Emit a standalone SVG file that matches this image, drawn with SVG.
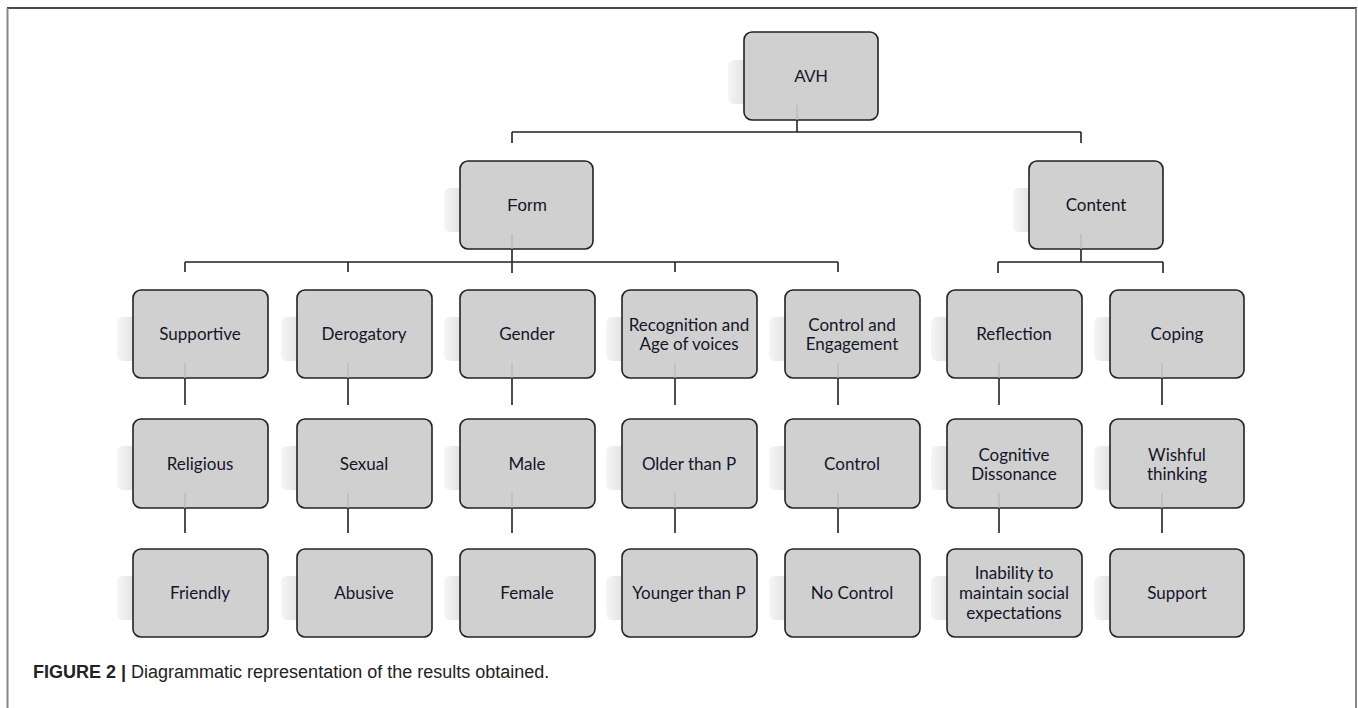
<svg xmlns="http://www.w3.org/2000/svg" width="1358" height="708" viewBox="0 0 1358 708">
<defs>
<linearGradient id="sh" x1="0" y1="0" x2="1" y2="0">
<stop offset="0" stop-color="#f6f6f6"/>
<stop offset="1" stop-color="#dadada"/>
</linearGradient>
<style>
.box{fill:#d0d0d0;stroke:#222;stroke-width:1.6}
.shd{fill:url(#sh)}
.t{font-family:Lato,"Open Sans",sans-serif;font-size:17px;fill:#15152a;text-anchor:middle}
.ta{font-family:"Liberation Sans",Arial,sans-serif;font-size:17px;fill:#15152a;text-anchor:middle}
.c{stroke:#222;stroke-width:1.6;fill:none}
.f{stroke:#b8b8b8;stroke-width:1.2;fill:none}
.cap{font-family:"Liberation Sans",Arial,sans-serif;font-size:18px;fill:#222}
</style>
</defs>
<rect x="0" y="0" width="1358" height="708" fill="#fff"/>
<g id="frame">
<line x1="7" y1="8" x2="1357" y2="8" stroke="#4a4a4a" stroke-width="2"/>
<line x1="7.5" y1="8" x2="7.5" y2="708" stroke="#888" stroke-width="2"/>
<line x1="1356" y1="8" x2="1356" y2="708" stroke="#888" stroke-width="2"/>
</g>
<g id="connectors">
<path class="c" d="M797 120V132M512 132H1081M512 132V143M1081 132V143"/>
<path class="c" d="M512 249V273M185 262H838M185 262V272M348 262V272M675 262V272M838 262V272"/>
<path class="c" d="M1081 249V262M998 262H1163M998 262V273M1163 262V273"/>
<path class="c" d="M185 378V405M348 378V405M512 378V405M675 378V405M838 378V405M999 378V405M1162 378V405"/>
<path class="c" d="M185 508V533M348 508V533M512 508V533M675 508V533M838 508V533M999 508V533M1162 508V533"/>
</g>
<g id="n-avh"><rect class="shd" x="728" y="60" width="24" height="44" rx="6"/><rect class="box" x="744" y="32" width="134" height="88" rx="8"/><line class="f" x1="797" y1="105" x2="797" y2="120"/><text class="ta" x="811" y="82">AVH</text></g>
<g id="n-form"><rect class="shd" x="444" y="188" width="24" height="44" rx="6"/><rect class="box" x="460" y="161" width="133" height="88" rx="8"/><line class="f" x1="512" y1="234" x2="512" y2="249"/><text class="ta" x="527" y="211">Form</text></g>
<g id="n-content"><rect class="shd" x="1013" y="188" width="24" height="44" rx="6"/><rect class="box" x="1029" y="161" width="134" height="88" rx="8"/><line class="f" x1="1081" y1="234" x2="1081" y2="249"/><text class="t" x="1096" y="211">Content</text></g>

<g id="n-supportive"><rect class="shd" x="117" y="317" width="24" height="44" rx="6"/><rect class="box" x="133" y="290" width="135" height="88" rx="8"/><line class="f" x1="185" y1="363" x2="185" y2="378"/><text class="t" x="200" y="340">Supportive</text></g>
<g id="n-derogatory"><rect class="shd" x="281" y="317" width="24" height="44" rx="6"/><rect class="box" x="297" y="290" width="135" height="88" rx="8"/><line class="f" x1="348" y1="363" x2="348" y2="378"/><text class="t" x="364" y="340">Derogatory</text></g>
<g id="n-gender"><rect class="shd" x="444" y="317" width="24" height="44" rx="6"/><rect class="box" x="460" y="290" width="135" height="88" rx="8"/><line class="f" x1="512" y1="363" x2="512" y2="378"/><text class="t" x="527" y="340">Gender</text></g>
<g id="n-recognition"><rect class="shd" x="606" y="317" width="24" height="44" rx="6"/><rect class="box" x="622" y="290" width="135" height="88" rx="8"/><line class="f" x1="675" y1="363" x2="675" y2="378"/><text class="t" x="689" y="331">Recognition and</text><text class="t" x="689" y="350">Age of voices</text></g>
<g id="n-controleng"><rect class="shd" x="769" y="317" width="24" height="44" rx="6"/><rect class="box" x="785" y="290" width="135" height="88" rx="8"/><line class="f" x1="838" y1="363" x2="838" y2="378"/><text class="t" x="852" y="331">Control and</text><text class="t" x="852" y="350">Engagement</text></g>
<g id="n-reflection"><rect class="shd" x="931" y="317" width="24" height="44" rx="6"/><rect class="box" x="947" y="290" width="135" height="88" rx="8"/><line class="f" x1="999" y1="363" x2="999" y2="378"/><text class="t" x="1014" y="340">Reflection</text></g>
<g id="n-coping"><rect class="shd" x="1094" y="317" width="24" height="44" rx="6"/><rect class="box" x="1110" y="290" width="134" height="88" rx="8"/><line class="f" x1="1162" y1="363" x2="1162" y2="378"/><text class="t" x="1177" y="340">Coping</text></g>

<g id="n-religious"><rect class="shd" x="117" y="446" width="24" height="44" rx="6"/><rect class="box" x="133" y="419" width="135" height="89" rx="8"/><line class="f" x1="185" y1="493" x2="185" y2="508"/><text class="t" x="200" y="470">Religious</text></g>
<g id="n-sexual"><rect class="shd" x="281" y="446" width="24" height="44" rx="6"/><rect class="box" x="297" y="419" width="135" height="89" rx="8"/><line class="f" x1="348" y1="493" x2="348" y2="508"/><text class="t" x="364" y="470">Sexual</text></g>
<g id="n-male"><rect class="shd" x="444" y="446" width="24" height="44" rx="6"/><rect class="box" x="460" y="419" width="135" height="89" rx="8"/><line class="f" x1="512" y1="493" x2="512" y2="508"/><text class="t" x="527" y="470">Male</text></g>
<g id="n-older"><rect class="shd" x="606" y="446" width="24" height="44" rx="6"/><rect class="box" x="622" y="419" width="135" height="89" rx="8"/><line class="f" x1="675" y1="493" x2="675" y2="508"/><text class="t" x="689" y="470">Older than P</text></g>
<g id="n-control"><rect class="shd" x="769" y="446" width="24" height="44" rx="6"/><rect class="box" x="785" y="419" width="135" height="89" rx="8"/><line class="f" x1="838" y1="493" x2="838" y2="508"/><text class="t" x="852" y="470">Control</text></g>
<g id="n-cognitive"><rect class="shd" x="931" y="446" width="24" height="44" rx="6"/><rect class="box" x="947" y="419" width="135" height="89" rx="8"/><line class="f" x1="999" y1="493" x2="999" y2="508"/><text class="t" x="1014" y="461">Cognitive</text><text class="t" x="1014" y="480">Dissonance</text></g>
<g id="n-wishful"><rect class="shd" x="1094" y="446" width="24" height="44" rx="6"/><rect class="box" x="1110" y="419" width="134" height="89" rx="8"/><line class="f" x1="1162" y1="493" x2="1162" y2="508"/><text class="t" x="1177" y="461">Wishful</text><text class="t" x="1177" y="480">thinking</text></g>

<g id="n-friendly"><rect class="shd" x="117" y="576" width="24" height="44" rx="6"/><rect class="box" x="133" y="549" width="135" height="88" rx="8"/><text class="t" x="200" y="599">Friendly</text></g>
<g id="n-abusive"><rect class="shd" x="281" y="576" width="24" height="44" rx="6"/><rect class="box" x="297" y="549" width="135" height="88" rx="8"/><text class="t" x="364" y="599">Abusive</text></g>
<g id="n-female"><rect class="shd" x="444" y="576" width="24" height="44" rx="6"/><rect class="box" x="460" y="549" width="135" height="88" rx="8"/><text class="t" x="527" y="599">Female</text></g>
<g id="n-younger"><rect class="shd" x="606" y="576" width="24" height="44" rx="6"/><rect class="box" x="622" y="549" width="135" height="88" rx="8"/><text class="t" x="689" y="599">Younger than P</text></g>
<g id="n-nocontrol"><rect class="shd" x="769" y="576" width="24" height="44" rx="6"/><rect class="box" x="785" y="549" width="135" height="88" rx="8"/><text class="t" x="852" y="599">No Control</text></g>
<g id="n-inability"><rect class="shd" x="931" y="576" width="24" height="44" rx="6"/><rect class="box" x="947" y="549" width="135" height="88" rx="8"/><text class="t" x="1014" y="579">Inability to</text><text class="t" x="1014" y="599">maintain social</text><text class="t" x="1014" y="619">expectations</text></g>
<g id="n-support"><rect class="shd" x="1094" y="576" width="24" height="44" rx="6"/><rect class="box" x="1110" y="549" width="134" height="88" rx="8"/><text class="t" x="1177" y="599">Support</text></g>

<g id="caption">
<text class="cap" x="33" y="678"><tspan font-weight="bold">FIGURE 2 |</tspan> Diagrammatic representation of the results obtained.</text>
</g>
</svg>
